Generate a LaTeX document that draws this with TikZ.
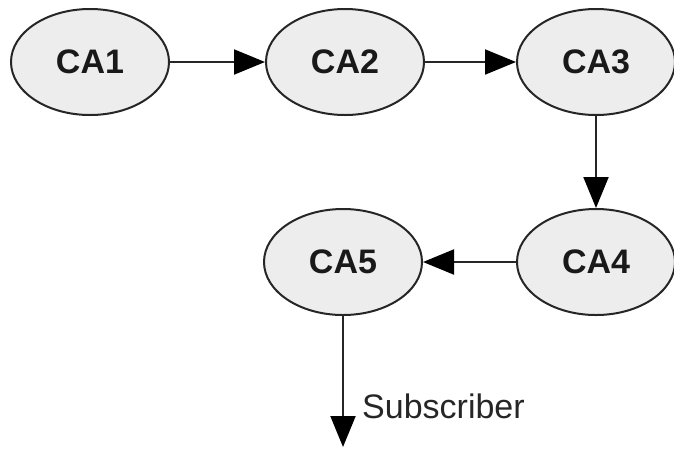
\documentclass[tikz,border=0pt]{standalone}
\usepackage{fontspec}
\setmainfont{Liberation Sans}
\usetikzlibrary{shapes.geometric,arrows.meta}
\newlength{\du}
\setlength{\du}{1pt}
\definecolor{dialinecolor}{rgb}{0.150000, 0.150000, 0.150000}
\definecolor{dialinefill}{rgb}{0.930000, 0.930000, 0.930000}
\tikzset{
  ca/.style={ellipse, draw=dialinecolor, fill=dialinefill, line width=2.000000\du,
    minimum width=158.000000\du, minimum height=106.000000\du, inner sep=0pt,
    font=\fontsize{34}{40}\selectfont\bfseries, text=black!90},
  link/.style={draw=dialinecolor, line width=2.000000\du,
    -{Triangle[length=31pt,width=25pt,color=black]}}
}

\begin{document}
\begin{tikzpicture}
\pgftransformxscale{1.000000}
\pgftransformyscale{-1.000000}
\useasboundingbox (0\du,0\du) rectangle (674.000000\du,448.000000\du);
\node[ca] (ca1) at (90.000000\du,62.000000\du) {CA1};
\node[ca] (ca2) at (345.000000\du,62.000000\du) {CA2};
\node[ca] (ca3) at (596.000000\du,62.000000\du) {CA3};
\node[ca] (ca4) at (596.000000\du,262.000000\du) {CA4};
\node[ca] (ca5) at (343.000000\du,262.000000\du) {CA5};
\coordinate (sub) at (343.000000\du,447.000000\du);
\draw[link] (ca1) -- (ca2);
\draw[link] (ca2) -- (ca3);
\draw[link] (ca3) -- (ca4);
\draw[link] (ca4) -- (ca5);
\draw[link] (ca5) -- (sub);
\node[anchor=base west, inner sep=0pt, font=\fontsize{34}{40}\selectfont, text=black!85] (sublabel)
  at (362.000000\du,418.000000\du) {Subscriber};
\end{tikzpicture}
\end{document}
